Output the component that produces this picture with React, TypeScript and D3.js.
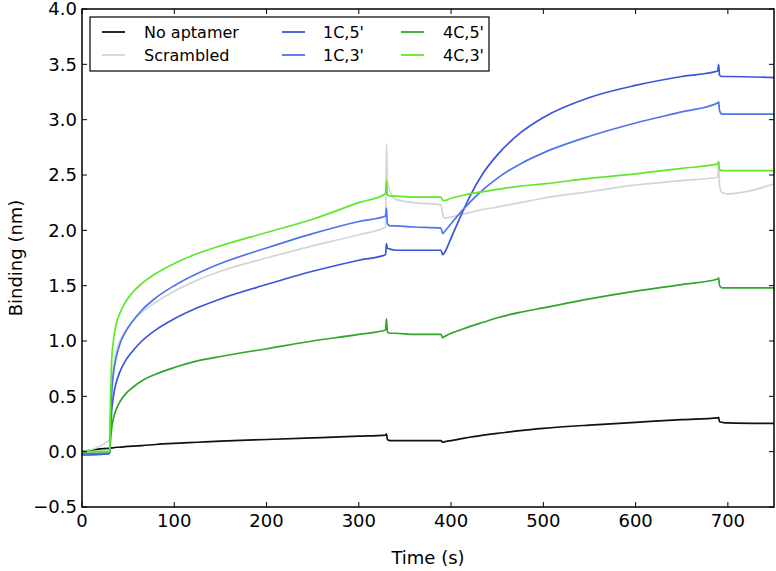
import React from "react"
import * as d3 from "d3"

const width = 776
const height = 571

const margin = { top: 9, right: 2, bottom: 64, left: 82 }

const times = [0, 29, 30, 31, 32, 34, 37, 41, 47, 55, 65, 80, 100, 125, 150, 200, 250, 300, 329, 330, 331, 334, 340, 360, 389, 391, 393, 400, 410, 420, 435, 450, 475, 500, 550, 600, 650, 689, 690, 691, 694, 700, 750]

const noAptamer = [0.0, 0.03, 0.03, 0.03, 0.035, 0.035, 0.04, 0.04, 0.045, 0.05, 0.055, 0.065, 0.075, 0.085, 0.095, 0.11, 0.125, 0.14, 0.15, 0.16, 0.11, 0.1, 0.1, 0.1, 0.1, 0.085, 0.09, 0.1, 0.115, 0.13, 0.15, 0.165, 0.19, 0.21, 0.24, 0.265, 0.29, 0.305, 0.31, 0.27, 0.265, 0.26, 0.255]
const scrambled = [0.0, 0.1, 0.12, 0.38, 0.57, 0.76, 0.9, 1.0, 1.09, 1.18, 1.26, 1.35, 1.45, 1.55, 1.63, 1.75, 1.86, 1.96, 2.03, 2.78, 2.45, 2.35, 2.28, 2.25, 2.23, 2.14, 2.11, 2.12, 2.14, 2.16, 2.19, 2.21, 2.25, 2.29, 2.35, 2.41, 2.45, 2.48, 2.62, 2.4, 2.34, 2.33, 2.42]
const c1five = [-0.03, -0.02, -0.01, 0.2, 0.35, 0.5, 0.62, 0.72, 0.82, 0.91, 1.0, 1.1, 1.2, 1.3, 1.38, 1.51, 1.63, 1.73, 1.78, 1.88, 1.84, 1.83, 1.82, 1.82, 1.82, 1.78, 1.8, 1.93, 2.12, 2.3, 2.52, 2.68, 2.88, 3.02, 3.2, 3.31, 3.39, 3.44, 3.5, 3.4, 3.39, 3.39, 3.38]
const c1three = [-0.02, -0.01, 0.0, 0.3, 0.5, 0.7, 0.85, 0.97, 1.08, 1.18, 1.28, 1.39, 1.5, 1.61, 1.7, 1.84, 1.97, 2.08, 2.13, 2.2, 2.06, 2.04, 2.04, 2.03, 2.02, 1.97, 1.99, 2.06, 2.16, 2.25, 2.37, 2.47, 2.6, 2.7, 2.85, 2.97, 3.07, 3.15, 3.16, 3.08, 3.05, 3.05, 3.05]
const c4five = [0.0, 0.0, 0.0, 0.12, 0.2, 0.3, 0.38, 0.45, 0.52, 0.58, 0.64, 0.7, 0.76, 0.82, 0.86, 0.93, 1.0, 1.06, 1.1, 1.2, 1.08, 1.07, 1.07, 1.06, 1.06, 1.03, 1.04, 1.07, 1.1, 1.13, 1.17, 1.21, 1.26, 1.3, 1.38, 1.45, 1.51, 1.56, 1.57, 1.5, 1.48, 1.48, 1.48]
const c4three = [0.0, 0.0, 0.02, 0.5, 0.8, 1.0, 1.15, 1.25, 1.35, 1.44, 1.52, 1.61, 1.7, 1.79, 1.86, 1.98, 2.1, 2.25, 2.33, 2.45, 2.32, 2.31, 2.31, 2.3, 2.3, 2.27, 2.27, 2.29, 2.31, 2.33, 2.35, 2.37, 2.4, 2.42, 2.47, 2.51, 2.56, 2.6, 2.62, 2.55, 2.54, 2.54, 2.54]

const seriesNames = ["No aptamer", "Scrambled", "1C,5'", "1C,3'", "4C,5'", "4C,3'"]
const seriesColors = ["#111111", "#d2d6d6", "#3a56d8", "#4f74ec", "#2fa52a", "#5fe82a"]
const seriesValues = [noAptamer, scrambled, c1five, c1three, c4five, c4three]

const xTicks = [0, 100, 200, 300, 400, 500, 600, 700]
const yTicks = [-0.5, 0.0, 0.5, 1.0, 1.5, 2.0, 2.5, 3.0, 3.5, 4.0]

function App() {
  const innerWidth = width - margin.left - margin.right
  const innerHeight = height - margin.top - margin.bottom

  const xScale = d3.scaleLinear().domain([0, 750]).range([0, innerWidth])
  const yScale = d3.scaleLinear().domain([-0.5, 4.0]).range([innerHeight, 0])

  const line = d3.line<number>()
    .x((_, i) => xScale(times[i]))
    .y(d => yScale(d))
    .curve(d3.curveMonotoneX)

  const font = "'DejaVu Sans', sans-serif"
  const tickLen = 5

  // legend columns: [line start, text start] in svg pixels
  const legendCols = [[102, 144], [282, 323], [401, 443]]
  const legendRows = [32, 55]

  return (
    <svg width={width} height={height} style={{ display: "block", position: "absolute", left: 0, top: 0 }} fontFamily={font}>
      <rect width={width} height={height} fill="white" />
      <g transform={`translate(${margin.left}, ${margin.top})`}>
        <defs>
          <clipPath id="plot-clip">
            <rect width={innerWidth} height={innerHeight} />
          </clipPath>
        </defs>
        <g clipPath="url(#plot-clip)">
          {seriesValues.map((vals, i) => (
            <path key={i} d={line(vals) ?? ""} fill="none" stroke={seriesColors[i]} strokeWidth={1.7} strokeLinejoin="round" />
          ))}
        </g>

        {xTicks.map(t => (
          <g key={t} transform={`translate(${xScale(t)}, 0)`}>
            <line y1={innerHeight} y2={innerHeight - tickLen} stroke="black" />
            <line y1={0} y2={tickLen} stroke="black" />
            <text y={innerHeight + 20} textAnchor="middle" fontSize={18}>{t}</text>
          </g>
        ))}
        {yTicks.map(t => (
          <g key={t} transform={`translate(0, ${yScale(t)})`}>
            <line x1={0} x2={tickLen} stroke="black" />
            <line x1={innerWidth} x2={innerWidth - tickLen} stroke="black" />
            <text x={-5} dy="0.35em" textAnchor="end" fontSize={18}>{d3.format(".1f")(t).replace("-", "\u2212")}</text>
          </g>
        ))}

        <rect width={innerWidth} height={innerHeight} fill="none" stroke="black" strokeWidth={1.5} />

        <text x={innerWidth / 2} y={innerHeight + 57} textAnchor="middle" fontSize={18}>Time (s)</text>
        <text transform={`translate(${-60}, ${innerHeight / 2}) rotate(-90)`} textAnchor="middle" fontSize={18}>Binding (nm)</text>
      </g>

      <rect x={90} y={17} width={399} height={54} fill="white" stroke="black" strokeWidth={1.2} />
      {seriesNames.map((name, i) => {
        const col = legendCols[Math.floor(i / 2)]
        const y = legendRows[i % 2]
        return (
          <g key={name}>
            <line x1={col[0]} x2={col[0] + 23} y1={y} y2={y} stroke={seriesColors[i]} strokeWidth={1.8} />
            <text x={col[1]} y={y} dy="0.35em" fontSize={16}>{name}</text>
          </g>
        )
      })}
    </svg>
  )
}

export default App
